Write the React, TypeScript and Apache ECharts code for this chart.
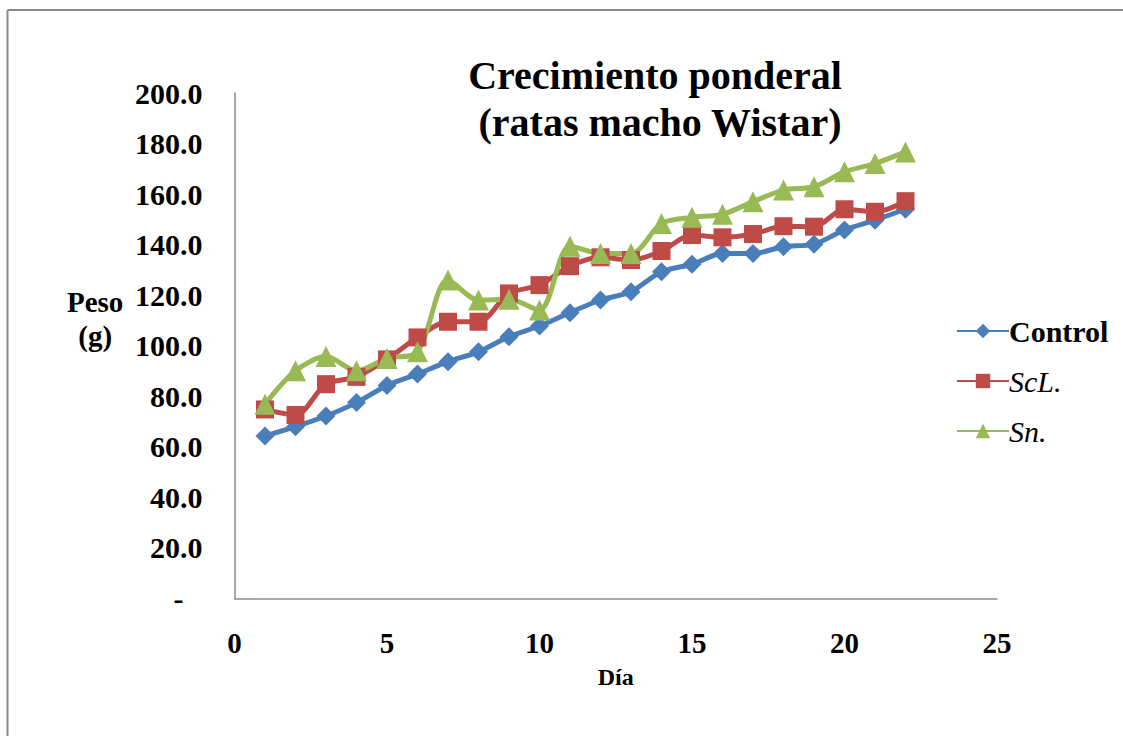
import React, { useEffect, useRef } from "react";
import * as echarts from "echarts";

const days = [1, 2, 3, 4, 5, 6, 7, 8, 9, 10, 11, 12, 13, 14, 15, 16, 17, 18, 19, 20, 21, 22];
const control = [64.3, 68.0, 72.2, 77.5, 84.3, 88.8, 93.7, 97.6, 103.6, 107.8, 113.1, 118.1, 121.4, 129.3, 132.2, 136.5, 136.5, 139.2, 140.2, 145.8, 149.7, 154.0];
const scl = [74.8, 72.6, 84.8, 87.7, 94.6, 103.3, 109.5, 109.5, 120.7, 124.0, 131.5, 135.0, 133.9, 137.5, 143.8, 142.9, 144.2, 147.3, 147.1, 154.0, 153.0, 157.2];
const sn = [76.9, 90.1, 95.7, 90.1, 95.0, 97.6, 126.0, 118.1, 118.4, 114.1, 139.4, 136.5, 136.5, 148.4, 150.8, 152.0, 157.0, 161.6, 162.9, 168.8, 172.1, 176.7];
const seriesNames = ["Control", "ScL.", "Sn."];
const titleLines = ["Crecimiento ponderal", "(ratas macho Wistar)"];
const colors = ["#4A7EBB", "#BE4B48", "#98B954"];

const pairs = (ys: number[]) => days.map((d, i) => [d, ys[i]]);

export default function App() {
  const ref = useRef<HTMLDivElement>(null);
  useEffect(() => {
    if (!ref.current) return;
    const chart = echarts.init(ref.current, null, { renderer: "svg" });
    const font = "Liberation Serif";
    const mkSeries = (name: string, data: number[], color: string, symbol: string, size: number) => ({
      name,
      type: "line",
      data: pairs(data),
      smooth: 0.3,
      symbol,
      symbolSize: size,
      lineStyle: { color, width: 5 },
      itemStyle: { color },
    });
    const titleStyle = { fontFamily: font, fontSize: 40, fontWeight: "bold", color: "#000" };
    chart.setOption({
      animation: false,
      backgroundColor: "#ffffff",
      textStyle: { fontFamily: font },
      title: [
        { text: titleLines[0], left: 650, top: 50, textAlign: "center", textStyle: titleStyle },
        { text: titleLines[1], left: 655, top: 97, textAlign: "center", textStyle: titleStyle },
      ],
      grid: { left: 234.5, right: 126, top: 93, bottom: 137.5, containLabel: false },
      xAxis: {
        type: "value",
        min: 0,
        max: 25,
        interval: 5,
        name: "Día",
        nameLocation: "middle",
        nameGap: 66,
        nameTextStyle: { fontFamily: font, fontSize: 24, fontWeight: "bold", color: "#000" },
        axisLine: { show: true, lineStyle: { color: "#8c8c8c", width: 1.5 } },
        axisTick: { show: false },
        splitLine: { show: false },
        axisLabel: { fontFamily: font, fontSize: 29, fontWeight: "bold", color: "#000", margin: 30 },
      },
      yAxis: {
        type: "value",
        min: 0,
        max: 200,
        interval: 20,
        axisLine: { show: true, lineStyle: { color: "#8c8c8c", width: 1.5 } },
        axisTick: { show: false },
        splitLine: { show: false },
        axisLabel: {
          fontFamily: font,
          fontSize: 30,
          fontWeight: "bold",
          color: "#000",
          margin: 32,
          formatter: (v: number) => (v === 0 ? "{d|-}" : v.toFixed(1)),
          rich: { d: { fontFamily: font, fontSize: 30, fontWeight: "bold", color: "#000", padding: [0, 19, 0, 0] } },
        },
      },
      legend: {
        orient: "vertical",
        left: 951,
        top: 311,
        itemWidth: 52,
        itemHeight: 18,
        itemGap: 20,
        data: [
          { name: seriesNames[0], textStyle: { fontFamily: font, fontSize: 30, fontWeight: "bold", color: "#000" } },
          { name: seriesNames[1], textStyle: { fontFamily: font, fontSize: 30, fontStyle: "italic", color: "#000" } },
          { name: seriesNames[2], textStyle: { fontFamily: font, fontSize: 30, fontStyle: "italic", color: "#000" } },
        ],
        textStyle: {
          fontFamily: font,
          fontSize: 30,
          color: "#000",
          lineHeight: 30,
          padding: [0, 0, 0, -5],
        },
      },
      graphic: [
        {
          type: "line",
          shape: { x1: 7.5, y1: 10, x2: 1123, y2: 10 },
          style: { stroke: "#8a8a8a", lineWidth: 2 },
        },
        {
          type: "line",
          shape: { x1: 7.5, y1: 10, x2: 7.5, y2: 736 },
          style: { stroke: "#8a8a8a", lineWidth: 2 },
        },
        {
          type: "text",
          left: 67,
          top: 285,
          style: {
            text: "Peso\n(g)",
            textAlign: "center",
            fontFamily: font,
            fontSize: 29,
            fontWeight: "bold",
            fill: "#000",
            lineHeight: 34,
          },
        },
      ],
      series: [
        mkSeries(seriesNames[0], control, colors[0], "diamond", 19),
        mkSeries(seriesNames[1], scl, colors[1], "rect", 18),
        mkSeries(seriesNames[2], sn, colors[2], "triangle", 21),
      ],
    });
    return () => chart.dispose();
  }, []);
  return <div ref={ref} style={{ position: "absolute", left: 0, top: 0, width: 1123, height: 736 }} />;
}
